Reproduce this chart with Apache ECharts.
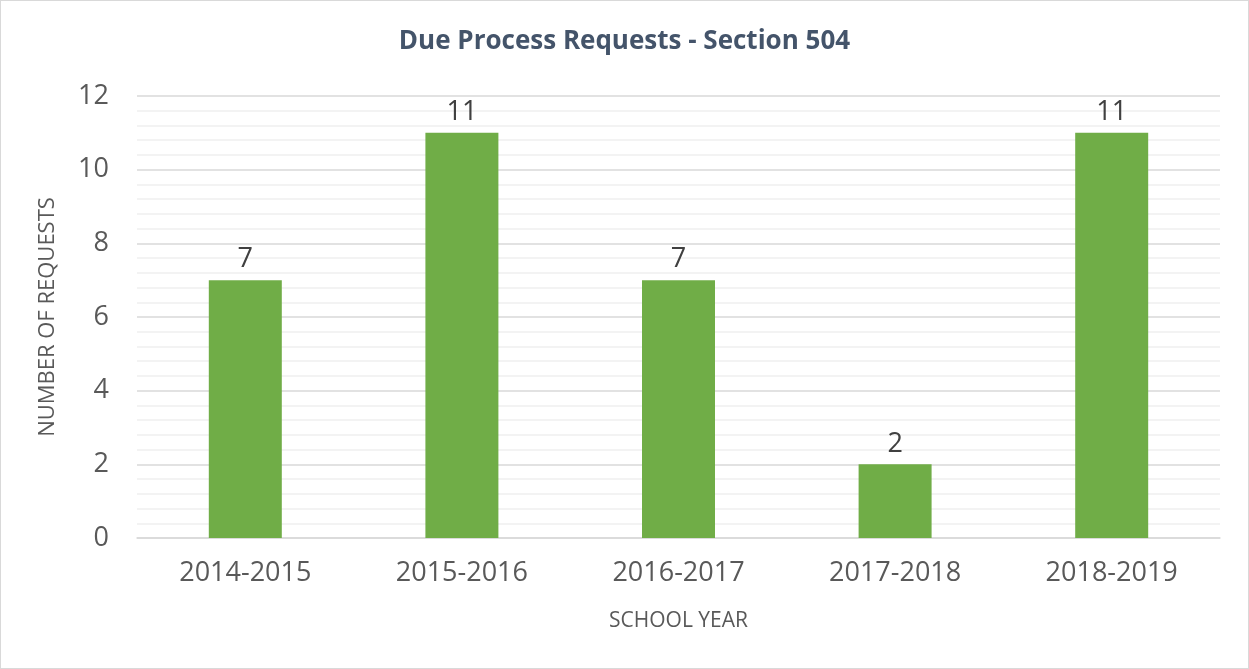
<!DOCTYPE html>
<html>
<head>
<meta charset="utf-8">
<title>Due Process Requests - Section 504</title>
<script src="https://cdn.jsdelivr.net/npm/echarts@6/dist/echarts.min.js"></script>
<style>
  html, body { margin: 0; padding: 0; background: #fff; }
  #chart { width: 1249px; height: 669px; box-sizing: border-box; border: 1px solid #d9d9d9; }
</style>
</head>
<body>
<div id="chart"></div>
<script>
const years = ['2014-2015', '2015-2016', '2016-2017', '2017-2018', '2018-2019']
const requests = [7, 11, 7, 2, 11]

const textColor = '#595959'
const font = 'Open Sans'

const chart = echarts.init(document.getElementById('chart'))
chart.setOption({
  animation: false,
  title: {
    text: 'Due Process Requests - Section 504',
    left: 'center',
    top: 23,
    textStyle: {
      color: '#44546a',
      fontFamily: font,
      fontWeight: 'bold',
      fontSize: 26
    }
  },
  grid: {
    left: 136,
    right: 28,
    top: 95,
    bottom: 130
  },
  xAxis: {
    type: 'category',
    data: years,
    name: 'SCHOOL YEAR',
    nameLocation: 'middle',
    nameGap: 73,
    nameTextStyle: { color: textColor, fontFamily: font, fontSize: 21 },
    axisTick: { show: false },
    axisLine: { lineStyle: { color: '#d9d9d9', width: 1.5 } },
    axisLabel: { color: textColor, fontFamily: font, fontSize: 27, margin: 22 }
  },
  yAxis: {
    type: 'value',
    min: 0,
    max: 12,
    interval: 2,
    name: 'NUMBER OF REQUESTS',
    nameLocation: 'middle',
    nameGap: 78,
    nameTextStyle: { color: textColor, fontFamily: font, fontSize: 22 },
    axisLine: { show: false },
    axisTick: { show: false },
    axisLabel: { color: textColor, fontFamily: font, fontSize: 27, margin: 28 },
    splitLine: { lineStyle: { color: '#d9d9d9', width: 1.5 } },
    minorTick: { show: false, splitNumber: 5 },
    minorSplitLine: { show: true, lineStyle: { color: '#f0f0f0', width: 1.5 } }
  },
  series: [{
    type: 'bar',
    data: requests,
    barWidth: '33.7%',
    itemStyle: { color: '#70ad47' },
    label: {
      show: true,
      position: 'top',
      distance: 7,
      color: '#404040',
      fontFamily: font,
      fontSize: 27
    }
  }]
})
</script>
</body>
</html>
